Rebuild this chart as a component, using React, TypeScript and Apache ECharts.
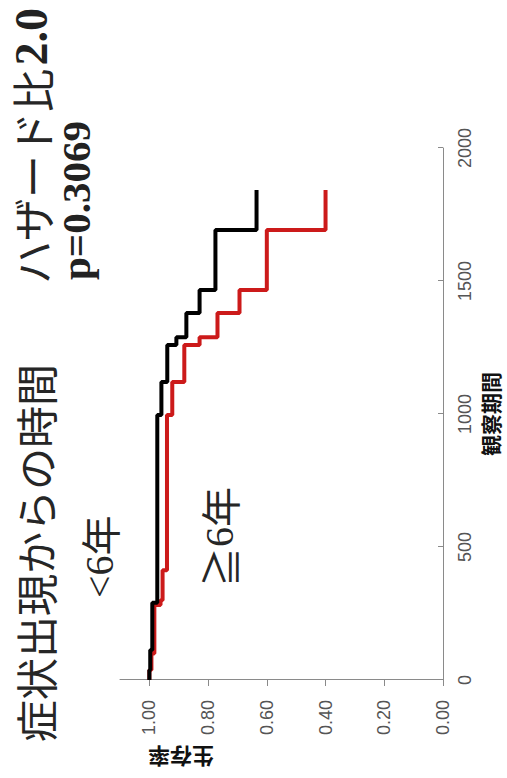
import React, { useEffect, useRef } from "react";
import * as echarts from "echarts";

// Kaplan-Meier data: [time (days), survival]
const timesLt6 = [0, 38, 113, 290, 996, 1120, 1259, 1289, 1380, 1466, 1692, 1842];
const survLt6 = [1.0, 0.997, 0.99, 0.973, 0.959, 0.939, 0.908, 0.874, 0.829, 0.775, 0.635, 0.635];

const timesGe6 = [0, 38, 100, 282, 300, 413, 996, 1120, 1259, 1289, 1380, 1466, 1692, 1842];
const survGe6 = [1.0, 0.993, 0.983, 0.962, 0.955, 0.94, 0.922, 0.881, 0.829, 0.768, 0.693, 0.6, 0.4, 0.4];

const survTicks = [0, 0.2, 0.4, 0.6, 0.8, 1.0];
const timeTicks = [0, 500, 1000, 1500, 2000];

const titleText = "症状出現からの時間";
const hrLabel = "ハザード比";
const hrValue = "2.0";
const pText = "p=0.3069";
const groupLt6 = "<6年";
const groupGe6 = "≧6年";
const xName = "観察期間";
const yName = "生存率";

const W = 778;
const H = 507;

export default function App() {
  const ref = useRef<HTMLDivElement>(null);

  useEffect(() => {
    if (!ref.current) return;
    const chart = echarts.init(ref.current, undefined, { renderer: "svg" });
    const cjk = '"Noto Sans CJK JP", sans-serif';
    const serif = '"Liberation Serif", "DejaVu Serif", serif';
    const sans = '"Liberation Sans", Arial, sans-serif';
    chart.setOption({
      animation: false,
      backgroundColor: "#ffffff",
      grid: { left: 98, right: 148, top: 120, bottom: 64, containLabel: false },
      xAxis: {
        type: "value",
        min: timeTicks[0],
        max: timeTicks[timeTicks.length - 1],
        interval: 500,
        axisLine: { show: true, lineStyle: { color: "#8a8a8a", width: 1 } },
        axisTick: { show: true, inside: true, length: 5, lineStyle: { color: "#8a8a8a" } },
        axisLabel: {
          fontSize: 18,
          color: "#555",
          fontFamily: sans,
          margin: 13,
          formatter: (v: number) => String(v),
        },
        splitLine: { show: false },
        name: xName,
        nameLocation: "middle",
        nameGap: 36,
        nameTextStyle: { fontSize: 21, fontWeight: "bold", color: "#111", fontFamily: cjk },
      },
      yAxis: {
        type: "value",
        min: 0,
        max: 1.1,
        axisLine: { show: true, lineStyle: { color: "#8a8a8a", width: 1 } },
        axisTick: { show: true, length: 6, customValues: survTicks, lineStyle: { color: "#8a8a8a" } },
        axisLabel: {
          fontSize: 18,
          color: "#555",
          fontFamily: sans,
          margin: 20,
          customValues: survTicks,
          formatter: (v: number) => v.toFixed(2),
        },
        splitLine: { show: false },
      },
      series: [
        {
          name: groupLt6,
          type: "line",
          step: "end",
          showSymbol: false,
          symbol: "none",
          lineStyle: { color: "#000000", width: 4 },
          data: timesLt6.map((t, i) => [t, survLt6[i]]),
          z: 3,
        },
        {
          name: groupGe6,
          type: "line",
          step: "end",
          showSymbol: false,
          symbol: "none",
          lineStyle: { color: "#cc1a1a", width: 4 },
          data: timesGe6.map((t, i) => [t, survGe6[i]]),
          z: 2,
        },
      ],
      graphic: [
        {
          type: "text",
          left: 36,
          top: 13,
          style: { text: titleText, fontSize: 42, fontFamily: cjk, fill: "#262626" },
        },
        {
          type: "text",
          left: 494,
          top: 8,
          style: {
            text: `{a|${hrLabel}}{c| }{b|${hrValue}}`,
            rich: {
              a: { fontSize: 43, fontFamily: cjk, fill: "#262626" },
              c: { fontSize: 14, fontFamily: serif },
              b: { fontSize: 46, fontFamily: serif, fontWeight: "bold", fill: "#222" },
            },
          },
        },
        {
          type: "text",
          left: 498,
          top: 55,
          style: { text: pText, fontSize: 41, fontFamily: serif, fontWeight: "bold", fill: "#222" },
        },
        {
          type: "text",
          left: 180,
          top: 79,
          style: {
            text: `{a|<6}{b|年}`,
            rich: {
              a: { fontSize: 40, fontFamily: serif, fill: "#262626" },
              b: { fontSize: 40, fontFamily: cjk, fill: "#262626" },
            },
          },
        },
        {
          type: "text",
          left: 191,
          top: 199,
          style: {
            text: `{b|≧}{a|6}{b|年}`,
            rich: {
              a: { fontSize: 40, fontFamily: serif, fill: "#262626" },
              b: { fontSize: 40, fontFamily: cjk, fill: "#262626" },
            },
          },
        },
        {
          type: "text",
          x: 20,
          y: 181,
          rotation: Math.PI / 2,
          style: {
            text: yName,
            fontSize: 22,
            fontWeight: "bold",
            fontFamily: cjk,
            fill: "#111",
            align: "center",
            verticalAlign: "middle",
          },
        },
      ],
    });
    return () => chart.dispose();
  }, []);

  return (
    <div
      style={{
        position: "absolute",
        left: 0,
        top: 0,
        width: H,
        height: W,
        overflow: "hidden",
        background: "#fff",
      }}
    >
      <div
        ref={ref}
        style={{
          position: "absolute",
          left: 0,
          top: 0,
          width: W,
          height: H,
          transformOrigin: "0 0",
          transform: `translate(0px, ${W}px) rotate(-90deg)`,
        }}
      />
    </div>
  );
}
